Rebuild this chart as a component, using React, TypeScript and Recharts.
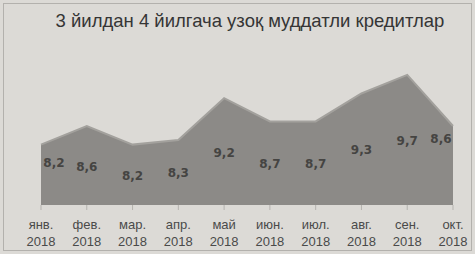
import React from "react";
import { AreaChart, Area, XAxis, YAxis, LabelList } from "recharts";

const months = ["янв.", "фев.", "мар.", "апр.", "май", "июн.", "июл.", "авг.", "сен.", "окт."];
const years = ["2018", "2018", "2018", "2018", "2018", "2018", "2018", "2018", "2018", "2018"];
const values = [8.2, 8.6, 8.2, 8.3, 9.2, 8.7, 8.7, 9.3, 9.7, 8.6];
const title = "3 йилдан 4 йилгача узоқ муддатли кредитлар";

const data = months.map((m, i) => ({ name: m, year: years[i], value: values[i] }));

const W = 475;
const H = 254;
const M = { top: 61, right: 22, left: 41, bottom: 0 };
const XH = 49;
const BASE = H - M.bottom - XH;

const Tick = (props: any) => {
  const { x, y, payload, index } = props;
  return (
    <g>
      <line x1={x} x2={x} y1={y - 8} y2={y - 3} stroke="#b5b3af" strokeWidth={1} />
      <text x={x} y={y + 16} textAnchor="middle" fontSize={13} fill="#4a4a4a" fontFamily="Liberation Sans, Arial, sans-serif">
        {payload.value}
      </text>
      <text x={x} y={y + 33} textAnchor="middle" fontSize={13} fill="#4a4a4a" fontFamily="Liberation Sans, Arial, sans-serif">
        {years[index] ?? "2018"}
      </text>
    </g>
  );
};

const Label = (props: any) => {
  const { x, y, value, index } = props;
  const n = values.length;
  let lx = x;
  let ly = (y + BASE) / 2 + 5;
  if (index === 0) { lx = x + 13; ly = y + 22; }
  if (index === n - 1) { lx = x - 12; ly = y + 17; }
  return (
    <text x={lx} y={ly} textAnchor="middle" fontWeight="bold" fill="#454442" fontFamily="DejaVu Sans, sans-serif" style={{ fontSize: 12 }}>
      {String(value).replace(".", ",")}
    </text>
  );
};

export default function App() {
  return (
    <div style={{ position: "absolute", left: 0, top: 0, width: W, height: H, background: "#dcdad6", overflow: "hidden" }}>
      <div style={{ position: "absolute", left: 3, top: 3, width: W - 8, height: H - 8, border: "1px solid #b3b1ad" }} />
      <AreaChart width={W} height={H} data={data} margin={M}>
        <text x={250} y={27} textAnchor="middle" fontSize={18.5} fill="#353535" fontFamily="Liberation Sans, Arial, sans-serif">
          {title}
        </text>
        <XAxis dataKey="name" axisLine={false} tickLine={false} tick={<Tick />} height={XH} interval={0} />
        <YAxis hide domain={[6.9, 10]} />
        <Area
          type="linear"
          dataKey="value"
          stroke="#a3a19d"
          strokeWidth={2}
          fill="#8c8a87"
          fillOpacity={1}
          isAnimationActive={false}
        >
          <LabelList dataKey="value" content={<Label />} />
        </Area>
      </AreaChart>
    </div>
  );
}
